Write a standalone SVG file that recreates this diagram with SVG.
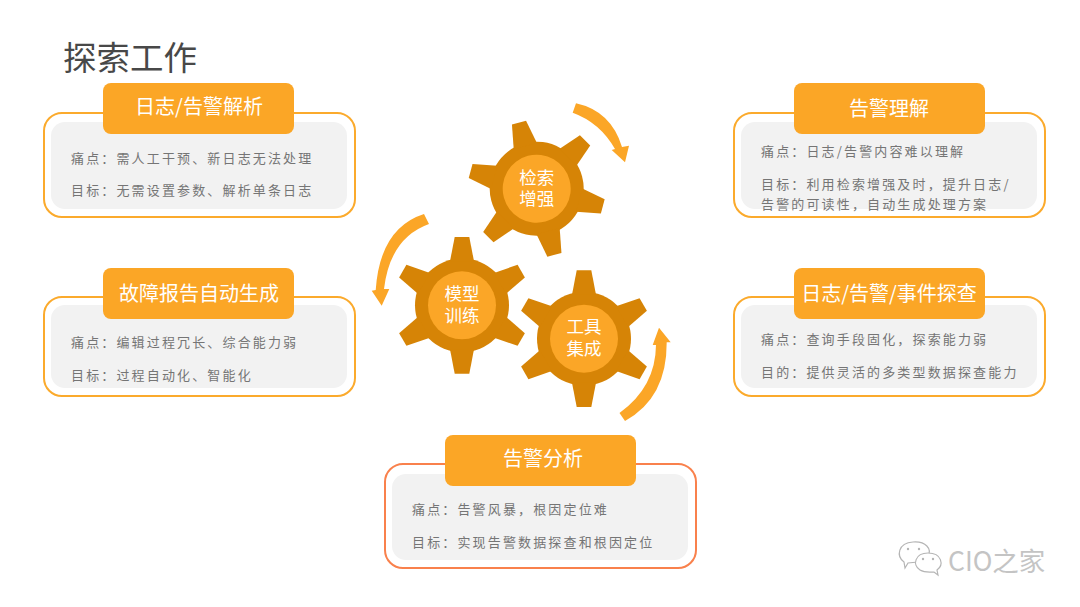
<svg xmlns="http://www.w3.org/2000/svg" width="1080" height="607" viewBox="0 0 1080 607">
<style>
text{font-family:"Noto Sans CJK SC","Noto Sans",sans-serif}
.title{font-size:33.5px;fill:#484848}
.outer{fill:#fff;stroke:#fbaa2c;stroke-width:2}
.outer2{fill:#fff;stroke:#f9814c;stroke-width:2}
.inner{fill:#f2f2f2}
.head{fill:#fba626}
.ht{font-size:20px;fill:#fff;text-anchor:middle}
.b{font-size:13px;fill:#757575;letter-spacing:2.15px}
.gt{font-size:17.5px;fill:#fff;text-anchor:middle}
.body{fill:#d68406}
.hub{fill:#fba627}
.arrow{fill:#fba627}
</style>
<defs>
<g id="gear">
<circle class="body" r="47"/>
<g id="t"><polygon class="body" points="-12,-44 -7.3,-68.4 7.3,-68.4 12,-44"/></g>
<use href="#t" transform="rotate(60)"/>
<use href="#t" transform="rotate(120)"/>
<use href="#t" transform="rotate(180)"/>
<use href="#t" transform="rotate(240)"/>
<use href="#t" transform="rotate(300)"/>
<circle class="hub" r="34"/>
</g>
</defs>
<rect width="1080" height="607" fill="#fff"/>
<text class="title" x="63" y="70">探索工作</text>

<g id="connectors">
<path class="arrow" d="M576,103.3Q611,111 622,147L629,145.7L625,162.3L611.7,150L615,149Q600,122.6 572.7,112.7Z"/>
<path class="arrow" d="M424,214Q380,228 375.7,290L371.7,290.7L381.7,305.7L389.3,289L384,289Q390,238 429,224Z"/>
<path class="arrow" d="M625,421Q667,398 666.7,342.3L670.7,342.3L659,327.7L652.7,345L656,345Q655.6,387 619.5,413Z"/>
</g>

<g id="gear-search">
<use href="#gear" transform="translate(536.7,188.7) rotate(-15)"/>
<text class="gt"><tspan x="536.7" y="184">检索</tspan><tspan x="536.7" y="205">增强</tspan></text>
</g>
<g id="gear-model">
<use href="#gear" transform="translate(462,305.3)"/>
<text class="gt"><tspan x="462" y="300">模型</tspan><tspan x="462" y="322">训练</tspan></text>
</g>
<g id="gear-tools">
<use href="#gear" transform="translate(584,338.7)"/>
<text class="gt"><tspan x="584" y="333">工具</tspan><tspan x="584" y="355">集成</tspan></text>
</g>

<g id="card-log-parse">
<rect class="outer" x="44" y="113" width="311" height="104" rx="18"/>
<rect class="inner" x="51" y="122" width="296" height="87" rx="14"/>
<rect class="head" x="103" y="83" width="191" height="51" rx="8"/>
<text class="ht" x="199" y="114">日志/告警解析</text>
<text class="b" x="71" y="163">痛点：需人工干预、新日志无法处理</text>
<text class="b" x="71" y="195">目标：无需设置参数、解析单条日志</text>
</g>
<g id="card-report">
<rect class="outer" x="44" y="297" width="311" height="99" rx="18"/>
<rect class="inner" x="51" y="305" width="296" height="83" rx="14"/>
<rect class="head" x="103" y="268" width="191" height="51" rx="8"/>
<text class="ht" x="199" y="301">故障报告自动生成</text>
<text class="b" x="71" y="347">痛点：编辑过程冗长、综合能力弱</text>
<text class="b" x="71" y="380">目标：过程自动化、智能化</text>
</g>
<g id="card-alert-analysis">
<rect class="outer2" x="385" y="464" width="311" height="104" rx="18"/>
<rect class="inner" x="392" y="474" width="296" height="86" rx="14"/>
<rect class="head" x="445" y="435" width="191" height="51" rx="8"/>
<text class="ht" x="543" y="466">告警分析</text>
<text class="b" x="412" y="514">痛点：告警风暴，根因定位难</text>
<text class="b" x="412" y="547">目标：实现告警数据探查和根因定位</text>
</g>
<g id="card-alert-understand">
<rect class="outer" x="734" y="113" width="311" height="104" rx="18"/>
<rect class="inner" x="741" y="122" width="296" height="87" rx="14"/>
<rect class="head" x="794" y="83" width="191" height="51" rx="8"/>
<text class="ht" x="889" y="116">告警理解</text>
<text class="b" x="761" y="156">痛点：日志/告警内容难以理解</text>
<text class="b" x="761" y="189">目标：利用检索增强及时，提升日志/</text>
<text class="b" x="761" y="209">告警的可读性，自动生成处理方案</text>
</g>
<g id="card-explore">
<rect class="outer" x="734" y="297" width="311" height="99" rx="18"/>
<rect class="inner" x="741" y="305" width="296" height="83" rx="14"/>
<rect class="head" x="794" y="268" width="191" height="51" rx="8"/>
<text class="ht" x="889" y="301">日志/告警/事件探查</text>
<text class="b" x="761" y="344">痛点：查询手段固化，探索能力弱</text>
<text class="b" x="761" y="377">目的：提供灵活的多类型数据探查能力</text>
</g>

<g id="watermark">
<g fill="#fff" stroke="#b5b5b5" stroke-width="1.2">
<path d="M904,562C896,556 898,543 913,542C926,541 932,549 928,556L918,562L908,563L905,568Z"/>
<path d="M937,570C944,565 942,553 928,553C915,553 912,565 920,570C925,573 930,572 934,572L938,575Z"/>
</g>
<g fill="#b5b5b5"><circle cx="908" cy="549" r="1.2"/><circle cx="919" cy="549" r="1.2"/><circle cx="923" cy="559" r="1.2"/><circle cx="933" cy="559" r="1.2"/></g>
<text x="948" y="571" font-size="26.5" fill="#c4c4c4">CIO之家</text>
</g>
</svg>
